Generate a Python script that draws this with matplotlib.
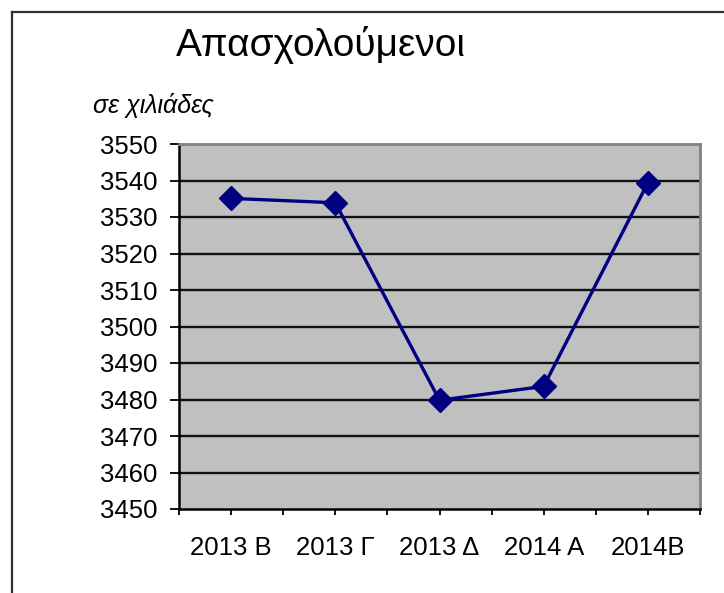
import matplotlib
matplotlib.use("Agg")
import matplotlib.pyplot as plt
from matplotlib.lines import Line2D
from matplotlib.ticker import FixedLocator, NullFormatter

categories = ["2013 Β", "2013 Γ", "2013 Δ", "2014 Α", "2014Β"]
values = [3535.1, 3533.9, 3479.8, 3483.6, 3539.4]
yticks = list(range(3450, 3551, 10))
title = "Απασχολούμενοι"
subtitle = "σε χιλιάδες"

plt.rcParams['font.family'] = ['Liberation Sans', 'DejaVu Sans']

W, H = 724, 593
fig = plt.figure(figsize=(W / 100, H / 100), dpi=100)
fig.patch.set_facecolor("white")

L, R, T, B = 179, 700, 144, 509
ax = fig.add_axes([L / W, 1 - B / H, (R - L) / W, (B - T) / H])
ax.set_facecolor("#C0C0C0")

x = list(range(len(categories)))
ax.plot(x, values, color="#000080", lw=2.4, marker="D", ms=12.5,
        markerfacecolor="#000080", markeredgecolor="#000080", zorder=3)

ax.set_xlim(-0.5, len(categories) - 0.5)
ax.set_ylim(yticks[0], yticks[-1])
ax.set_yticks(yticks)
ax.set_yticklabels([str(v) for v in yticks])
for v in yticks[1:-1]:
    ax.axhline(v, color="#111111", lw=1.7, zorder=1)

ax.set_xticks(x)
ax.set_xticklabels(categories)
ax.xaxis.set_minor_locator(FixedLocator([i - 0.5 for i in range(len(categories) + 1)]))
ax.xaxis.set_minor_formatter(NullFormatter())

ax.tick_params(axis="y", direction="out", length=6.5, width=1.3, pad=9,
               labelsize=18.5, colors="black")
ax.tick_params(axis="x", which="both", direction="out", length=4.5, width=1.3,
               pad=15, labelsize=18.5, colors="black")

for s in ["top", "right"]:
    ax.spines[s].set_color("#808080")
    ax.spines[s].set_linewidth(2.0)
for s in ["left", "bottom"]:
    ax.spines[s].set_color("black")
    ax.spines[s].set_linewidth(1.8)

fig.text(321 / W, 1 - 45 / H, title, ha="center", va="center", fontsize=28)
fig.text(93 / W, 1 - 105 / H, subtitle, ha="left", va="center", fontsize=18,
         style="italic")

# outer frame (left and top edges visible)
fig.add_artist(Line2D([12 / W, 12 / W], [0, 1 - 12 / H], transform=fig.transFigure,
                      color="#303030", lw=1.6))
fig.add_artist(Line2D([12 / W, 1], [1 - 12 / H, 1 - 12 / H], transform=fig.transFigure,
                      color="#303030", lw=1.6))

fig.savefig("out.png", dpi=100)
